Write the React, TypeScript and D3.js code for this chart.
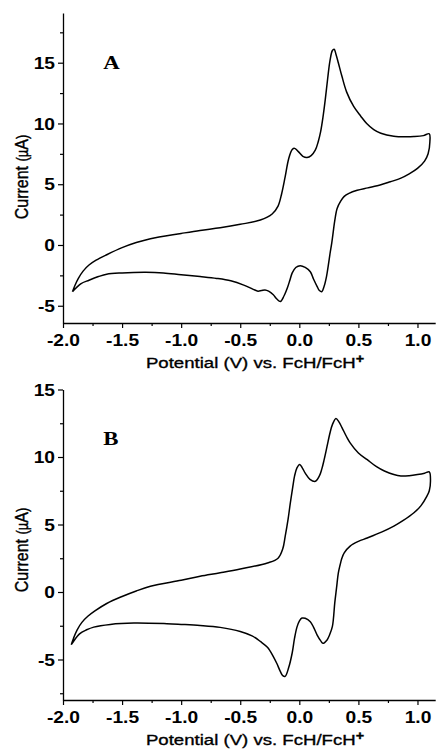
import React, { useEffect, useRef } from 'react';
import * as d3 from 'd3';

// panel A, forward (anodic) scan
const fwdPotentialA = [-1.92, -1.9, -1.87, -1.83, -1.78, -1.72, -1.63, -1.5, -1.38, -1.26, -1.0, -0.84, -0.67, -0.5, -0.33, -0.23, -0.18, -0.15, -0.12, -0.09, -0.06, -0.04, -0.01, 0.03, 0.065, 0.1, 0.135, 0.16, 0.18, 0.2, 0.22, 0.24, 0.26, 0.28, 0.295, 0.31, 0.33, 0.36, 0.4, 0.46, 0.52, 0.57, 0.63, 0.69, 0.8, 0.9, 0.97, 1.05, 1.1];
const fwdCurrentA = [-3.85, -3.35, -2.75, -2.15, -1.65, -1.25, -0.8, -0.22, 0.2, 0.52, 0.95, 1.2, 1.42, 1.7, 2.05, 2.55, 3.2, 4.2, 5.6, 7.1, 7.85, 7.95, 7.7, 7.3, 7.2, 7.35, 7.8, 8.5, 9.3, 10.5, 12.0, 13.7, 15.2, 16.0, 16.1, 15.7, 15.0, 13.9, 12.6, 11.4, 10.6, 10.0, 9.5, 9.2, 8.95, 8.9, 8.92, 9.0, 9.15];
// panel A, reverse scan
const revPotentialA = [1.105, 1.09, 1.06, 1.0, 0.93, 0.86, 0.77, 0.69, 0.58, 0.49, 0.42, 0.38, 0.35, 0.32, 0.3, 0.29, 0.275, 0.26, 0.245, 0.23, 0.21, 0.19, 0.17, 0.15, 0.12, 0.093, 0.05, 0.008, -0.03, -0.06, -0.08, -0.1, -0.13, -0.16, -0.19, -0.22, -0.26, -0.29, -0.32, -0.35, -0.39, -0.47, -0.58, -0.7, -0.84, -1.0, -1.15, -1.3, -1.5, -1.63, -1.7, -1.78, -1.85, -1.92];
const revCurrentA = [8.5, 7.5, 6.9, 6.3, 5.85, 5.5, 5.2, 4.95, 4.7, 4.5, 4.25, 4.0, 3.6, 3.0, 2.0, 1.3, 0.2, -0.7, -1.7, -2.6, -3.4, -3.85, -3.75, -3.4, -2.8, -2.2, -1.85, -1.7, -1.85, -2.3, -2.9, -3.5, -4.2, -4.65, -4.45, -4.1, -3.8, -3.7, -3.75, -3.8, -3.65, -3.3, -2.95, -2.75, -2.6, -2.45, -2.3, -2.25, -2.3, -2.4, -2.6, -2.9, -3.2, -3.85];

// panel B, forward scan
const fwdPotentialB = [-1.93, -1.91, -1.88, -1.84, -1.79, -1.73, -1.63, -1.5, -1.38, -1.26, -1.0, -0.84, -0.67, -0.5, -0.27, -0.18, -0.14, -0.12, -0.095, -0.076, -0.055, -0.04, -0.02, 0.003, 0.025, 0.05, 0.09, 0.136, 0.17, 0.19, 0.21, 0.235, 0.26, 0.28, 0.31, 0.335, 0.36, 0.4, 0.43, 0.5, 0.575, 0.65, 0.72, 0.8, 0.86, 0.93, 1.0, 1.06, 1.1];
const fwdCurrentB = [-3.9, -3.4, -2.8, -2.25, -1.8, -1.4, -0.85, -0.33, 0.08, 0.42, 0.87, 1.16, 1.42, 1.7, 2.15, 2.5, 3.2, 4.1, 5.4, 6.6, 7.8, 8.6, 9.2, 9.45, 9.2, 8.8, 8.35, 8.2, 8.6, 9.1, 9.8, 10.8, 11.8, 12.4, 12.85, 12.6, 12.2, 11.5, 11.05, 10.3, 9.8, 9.3, 8.96, 8.7, 8.6, 8.62, 8.7, 8.8, 8.9];
// panel B, reverse scan
const revPotentialB = [1.11, 1.1, 1.08, 1.03, 0.97, 0.88, 0.8, 0.7, 0.575, 0.5, 0.43, 0.38, 0.36, 0.345, 0.33, 0.315, 0.3, 0.28, 0.255, 0.235, 0.2, 0.18, 0.15, 0.12, 0.093, 0.05, 0.023, 0.0, -0.02, -0.04, -0.06, -0.09, -0.12, -0.14, -0.16, -0.19, -0.22, -0.27, -0.33, -0.4, -0.5, -0.67, -0.84, -1.0, -1.12, -1.4, -1.6, -1.74, -1.8, -1.86, -1.93];
const revCurrentB = [8.2, 7.5, 7.1, 6.4, 5.87, 5.3, 4.88, 4.45, 4.0, 3.75, 3.4, 2.9, 2.5, 2.0, 1.4, 0.3, -0.8, -2.55, -3.2, -3.55, -3.8, -3.6, -3.17, -2.6, -2.2, -1.95, -1.93, -2.15, -2.6, -3.4, -4.5, -5.6, -6.25, -6.2, -5.9, -5.3, -4.78, -4.1, -3.66, -3.25, -2.92, -2.62, -2.48, -2.4, -2.35, -2.3, -2.4, -2.6, -2.8, -3.1, -3.9];

const xTicks = [-2.0, -1.5, -1.0, -0.5, 0.0, 0.5, 1.0];
const xMinorTicks = [-1.75, -1.25, -0.75, -0.25, 0.25, 0.75];
const yTicksA = [-5, 0, 5, 10, 15];
const yMinorTicksA = [-2.5, 2.5, 7.5, 12.5, 17.5];
const yTicksB = [-5, 0, 5, 10, 15];
const yMinorTicksB = [-7.5, -2.5, 2.5, 7.5, 12.5];

const zip = (p: number[], c: number[]) => p.slice(0, Math.min(p.length, c.length)).map((v, i) => [v, c[i]] as [number, number]);

const panels = [
  { letter: 'A', data: zip(fwdPotentialA, fwdCurrentA).concat(zip(revPotentialA, revCurrentA)), yDomain: [-6.42, 19.09], top: 13, bottom: 323, yTicks: yTicksA, yMinor: yMinorTicksA, letterAt: [-1.66, 14.5], titleY: 177 },
  { letter: 'B', data: zip(fwdPotentialB, fwdCurrentB).concat(zip(revPotentialB, revCurrentB)), yDomain: [-8, 15], top: 389.5, bottom: 700, yTicks: yTicksB, yMinor: yMinorTicksB, letterAt: [-1.66, 10.9], titleY: 550 },
];

const W = 437, H = 754;
const SX = 1.2; // the original figure is stretched sideways

export default function App() {
  const ref = useRef<SVGSVGElement>(null);

  useEffect(() => {
    const svg = d3.select(ref.current);
    svg.selectAll('*').remove();

    const x = d3.scaleLinear().domain([-2, 1.15]).range([63, 435.2]);

    panels.forEach((p) => {
      const y = d3.scaleLinear().domain(p.yDomain).range([p.bottom, p.top]);
      const g = svg.append('g');

      // minor ticks
      g.append('g').attr('transform', `translate(0,${p.bottom})`)
        .call(d3.axisBottom(x).tickValues(xMinorTicks).tickSize(3).tickFormat(() => ''))
        .call((s) => s.select('.domain').remove());
      g.append('g').attr('transform', `translate(63,0)`)
        .call(d3.axisLeft(y).tickValues(p.yMinor).tickSize(3).tickFormat(() => ''))
        .call((s) => s.select('.domain').remove());

      // x axis
      const gx = g.append('g').attr('transform', `translate(0,${p.bottom})`)
        .call(d3.axisBottom(x).tickValues(xTicks).tickSize(5).tickSizeOuter(0).tickFormat((d: any) => d.toFixed(1)));
      gx.selectAll('text').attr('y', 0).attr('dy', 0)
        .attr('transform', `translate(0,23) scale(${SX},1)`);

      // y axis
      const gy = g.append('g').attr('transform', `translate(63,0)`)
        .call(d3.axisLeft(y).tickValues(p.yTicks).tickSize(5).tickSizeOuter(0).tickFormat((d: any) => String(d)));
      gy.selectAll('text').attr('x', 0).attr('dy', '0.36em')
        .attr('transform', `translate(-8,0) scale(${SX},1)`);

      g.selectAll('.tick text')
        .attr('font-family', '"Liberation Sans", Arial, sans-serif')
        .attr('font-size', 16).attr('font-weight', 'bold').attr('fill', '#000');
      g.selectAll('.tick line').attr('stroke', '#000').attr('stroke-width', 1.2);
      g.selectAll('.domain').attr('stroke', '#000').attr('stroke-width', 1.3);

      // the voltammogram
      const line = d3.line<[number, number]>()
        .x((d) => x(d[0])).y((d) => y(d[1]))
        .curve(d3.curveCatmullRom.alpha(0.5));
      g.append('path').datum(p.data).attr('d', line)
        .attr('fill', 'none').attr('stroke', '#000').attr('stroke-width', 1.5)
        .attr('stroke-linejoin', 'round');

      // panel letter
      g.append('text')
        .attr('transform', `translate(${x(p.letterAt[0])},${y(p.letterAt[1])}) scale(${SX},1)`)
        .attr('font-family', '"Liberation Serif", "Times New Roman", serif')
        .attr('font-weight', 'bold').attr('font-size', 19).text(p.letter);

      // x title
      const xt = g.append('text')
        .attr('transform', `translate(255,${p.bottom + 45}) scale(${SX},1)`)
        .attr('text-anchor', 'middle')
        .attr('font-family', '"Liberation Sans", Arial, sans-serif')
        .attr('font-size', 15.5).attr('stroke', '#000').attr('stroke-width', 0.35);
      xt.append('tspan').text('Potential (V) vs. FcH/FcH');
      xt.append('tspan').attr('dy', -5).attr('font-size', 12).attr('font-weight', 'bold').text('+');

      // y title
      const yt = g.append('text')
        .attr('transform', `translate(28,${p.titleY}) rotate(-90) scale(1,${SX})`)
        .attr('text-anchor', 'middle')
        .attr('font-family', '"Liberation Sans", Arial, sans-serif')
        .attr('font-size', 16).attr('stroke', '#000').attr('stroke-width', 0.35);
      yt.append('tspan').text('Current ');
      yt.append('tspan').attr('font-size', 13).text('(\u00b5');
      yt.append('tspan').text('A');
      yt.append('tspan').attr('font-size', 13).text(')');
    });
  }, []);

  return (
    <svg ref={ref} width={W} height={H}
      style={{ position: 'absolute', left: 0, top: 0, background: '#fff' }} />
  );
}
